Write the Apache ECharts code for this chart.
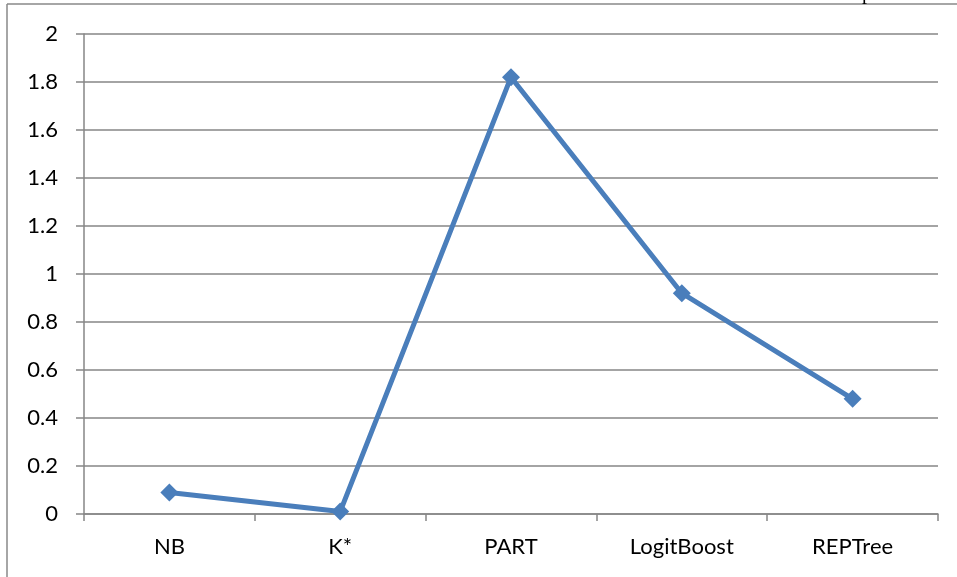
<!DOCTYPE html>
<html>
<head>
<meta charset="utf-8">
<script src="https://cdn.jsdelivr.net/npm/echarts@6/dist/echarts.min.js"></script>
<style>html,body{margin:0;padding:0;background:#fff}#c{width:957px;height:577px}</style>
</head>
<body>
<div id="c"></div>
<script>
const categories = ['NB', 'K*', 'PART', 'LogitBoost', 'REPTree'];
const values = [0.09, 0.01, 1.82, 0.92, 0.48];

const chart = echarts.init(document.getElementById('c'), null, {renderer: 'canvas'});
const font = 'Lato, "Open Sans", sans-serif';
chart.setOption({
  animation: false,
  backgroundColor: '#fff',
  grid: {left: 84, right: 19, top: 34, bottom: 63, containLabel: false},
  xAxis: {
    type: 'category',
    data: categories,
    boundaryGap: true,
    axisLine: {lineStyle: {color: '#868686', width: 1.5}},
    axisTick: {show: true, length: 7, lineStyle: {color: '#868686', width: 1.5}},
    axisLabel: {color: '#000', fontSize: 22, fontFamily: font, margin: 22}
  },
  yAxis: {
    type: 'value',
    min: 0, max: 2, interval: 0.2,
    axisLine: {show: true, lineStyle: {color: '#868686', width: 1.5}},
    axisTick: {show: true, length: 8, lineStyle: {color: '#868686', width: 1.5}},
    splitLine: {lineStyle: {color: '#868686', width: 1.5}},
    axisLabel: {color: '#000', fontSize: 22, fontFamily: font, margin: 26}
  },
  series: [{
    type: 'line',
    data: values,
    symbol: 'diamond',
    symbolSize: 18,
    lineStyle: {color: '#4A7EBB', width: 5},
    itemStyle: {color: '#4A7EBB'}
  }],
  graphic: [
    {type: 'line', shape: {x1: 7, y1: 4, x2: 957, y2: 4}, style: {stroke: '#888', lineWidth: 1.5}},
    {type: 'line', shape: {x1: 7, y1: 4, x2: 7, y2: 577}, style: {stroke: '#888', lineWidth: 1.5}},
    {type: 'text', left: 862, top: -16, style: {text: 'p', fill: '#000', font: '20px "Liberation Serif", serif'}}
  ]
});
</script>
</body>
</html>
